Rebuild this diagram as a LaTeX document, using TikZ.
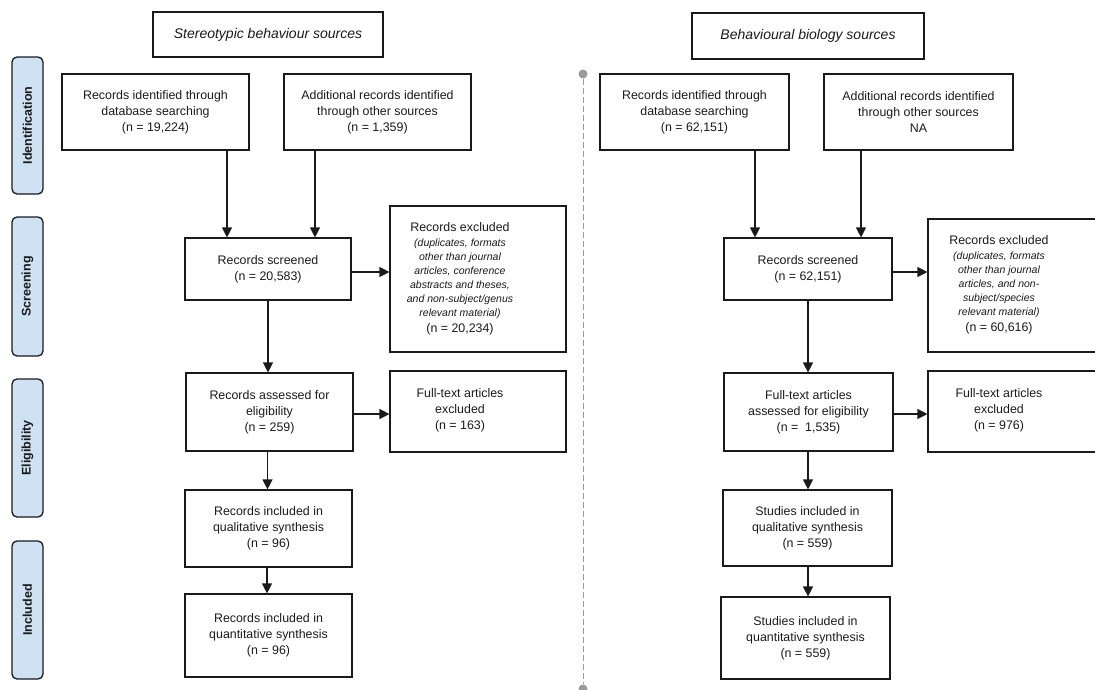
\documentclass[tikz,border=0pt]{standalone}
\usepackage{fontspec}
\setmainfont{Liberation Sans}
\usetikzlibrary{arrows.meta}
\definecolor{sidefill}{HTML}{CFE2F3}
\definecolor{ink}{HTML}{1A1A1A}
\definecolor{divgray}{HTML}{9A9A9A}
\tikzset{
  box/.style={draw=ink, line width=1.15pt, align=center, inner sep=0pt, text=ink,
    font=\fontsize{12.4}{16}\selectfont},
  hdr/.style={draw=ink, line width=1.15pt, inner sep=0pt, text=ink,
    font=\fontsize{14}{17}\selectfont\itshape},
  exbox/.style={draw=ink, line width=1.15pt, inner sep=0pt, minimum width=176},
  extext/.style={align=center, inner sep=0pt, text=ink,
    font=\fontsize{12.4}{14}\selectfont},
  side/.style={draw=ink, fill=sidefill, line width=1.3pt, rounded corners=5,
    rotate=90, minimum height=31, inner sep=0pt, text=ink,
    font=\fontsize{12.5}{15}\selectfont\bfseries},
  arr/.style={draw=ink, line width=1.15pt, -{Triangle[length=10pt,width=10pt]}},
  dot/.style={circle, fill=divgray, inner sep=0pt, minimum size=9},
}
\newcommand{\smallit}{\fontsize{10.5}{14}\selectfont\itshape}
\newcommand{\normsz}{\fontsize{12.4}{14}\selectfont\upshape}
\begin{document}
\begin{tikzpicture}[x=1pt,y=-1pt]
\useasboundingbox (0,0) rectangle (1095,689);

% side labels
\node[side, minimum width=137] (sId) at (27.5,125.5) {Identification};
\node[side, minimum width=139] (sSc) at (27.5,286.5) {Screening};
\node[side, minimum width=138] (sEl) at (27.5,448) {Eligibility};
\node[side, minimum width=138] (sIn) at (27.5,610) {Included};

% divider
\node[dot] (dTop) at (583,74) {};
\node[dot] (dBot) at (583,689) {};
\draw[divgray, line width=1pt, dash pattern=on 6pt off 3pt] (dTop) -- (dBot);

% ---------------- left flow ----------------
\node[hdr, minimum width=230, minimum height=45] (H1) at (268,34.5) {Stereotypic behaviour sources};
\node[box, minimum width=187, minimum height=76] (A1) at (155.5,112)
  {Records identified through\\database searching\\(n = 19,224)};
\node[box, minimum width=187, minimum height=76] (A2) at (377.5,112)
  {Additional records identified\\through other sources\\(n = 1,359)};
\node[box, minimum width=166, minimum height=62] (S1) at (268,269)
  {Records screened\\(n = 20,583)};
\node[exbox, minimum height=146] (E1) at (478,279) {};
\node[extext] (E1t) at (460,279) {Records excluded\\[1pt]
  \smallit (duplicates, formats\\ \smallit other than journal\\ \smallit articles, conference\\
  \smallit abstracts and theses,\\ \smallit and non-subject/genus\\ \smallit relevant material)\\[2pt]
  \normsz (n = 20,234)};
\node[box, minimum width=167, minimum height=78] (L1) at (269.5,412)
  {Records assessed for\\eligibility\\(n = 259)};
\node[exbox, minimum height=81] (F1) at (478,411.5) {};
\node[extext, font=\fontsize{12.4}{16}\selectfont] (F1t) at (460,410) {Full-text articles\\excluded\\(n = 163)};
\node[box, minimum width=167, minimum height=77] (Q1) at (268.5,528.5)
  {Records included in\\qualitative synthesis\\(n = 96)};
\node[box, minimum width=167, minimum height=83] (Q2) at (268.5,635.5)
  {Records included in\\quantitative synthesis\\(n = 96)};

\draw[arr] ([xshift=71.5]A1.south) -- ([xshift=-41]S1.north);
\draw[arr] ([xshift=-62.5]A2.south) -- ([xshift=47]S1.north);
\draw[arr] ([yshift=-3]S1.east) -- ([yshift=-3]S1.east -| E1.west);
\draw[arr] (S1.south) -- (S1.south |- L1.north);
\draw[arr] ([yshift=-2]L1.east) -- ([yshift=-2]L1.east -| F1.west);
\draw[arr] ([xshift=-2]L1.south) -- ([xshift=-2]L1.south |- Q1.north);
\draw[arr] ([xshift=-1.5]Q1.south) -- ([xshift=-1.5]Q2.north);

% ---------------- right flow ----------------
\node[hdr, minimum width=232, minimum height=46] (H2) at (808,36) {Behavioural biology sources};
\node[box, minimum width=189, minimum height=76] (B1) at (694.5,112)
  {Records identified through\\database searching\\(n = 62,151)};
\node[box, minimum width=189, minimum height=76] (B2) at (918.5,112)
  {Additional records identified\\through other sources\\NA};
\node[box, minimum width=168, minimum height=62] (S2) at (808,269)
  {Records screened\\(n = 62,151)};
\node[exbox, minimum height=133] (E2) at (1016,285.5) {};
\node[extext] (E2t) at (999,285) {Records excluded\\[1pt]
  \smallit (duplicates, formats\\ \smallit other than journal\\ \smallit articles, and non-\\
  \smallit subject/species\\ \smallit relevant material)\\[2pt]
  \normsz (n = 60,616)};
\node[box, minimum width=169, minimum height=78] (L2) at (808.5,412)
  {Full-text articles\\assessed for eligibility\\(n = \ 1,535)};
\node[exbox, minimum height=81] (F2) at (1016,411.5) {};
\node[extext, font=\fontsize{12.4}{16}\selectfont] (F2t) at (999,410) {Full-text articles\\excluded\\(n = 976)};
\node[box, minimum width=169, minimum height=76] (Q3) at (807.5,528)
  {Studies included in\\qualitative synthesis\\(n = 559)};
\node[box, minimum width=169, minimum height=82] (Q4) at (805.5,638)
  {Studies included in\\quantitative synthesis\\(n = 559)};

\draw[arr] ([xshift=60.5]B1.south) -- ([xshift=-53]S2.north);
\draw[arr] ([xshift=-57.5]B2.south) -- ([xshift=53]S2.north);
\draw[arr] ([yshift=-3]S2.east) -- ([yshift=-3]S2.east -| E2.west);
\draw[arr] (S2.south) -- (S2.south |- L2.north);
\draw[arr] ([yshift=-2]L2.east) -- ([yshift=-2]L2.east -| F2.west);
\draw[arr] ([xshift=-0.5]L2.south) -- ([xshift=-0.5]L2.south |- Q3.north);
\draw[arr] ([xshift=0.5]Q3.south) -- ([xshift=0.5]Q3.south |- Q4.north);
\end{tikzpicture}
\end{document}
